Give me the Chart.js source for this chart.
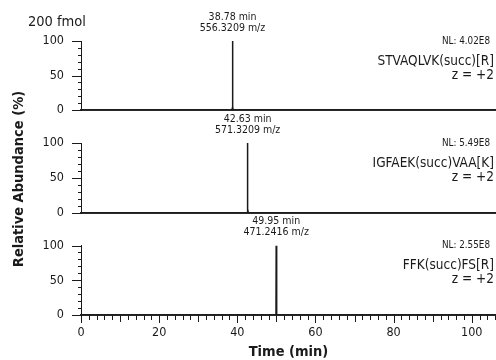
<!DOCTYPE html>
<html>
<head>
<meta charset="utf-8">
<script src="https://cdn.jsdelivr.net/npm/chart.js@4/dist/chart.umd.min.js"></script>
<style>
  html, body { margin: 0; padding: 0; background: #fff; }
  #wrap { position: relative; width: 496px; height: 360px; }
  #wrap canvas { position: absolute; left: 0; top: 0; }
</style>
</head>
<body>
<div id="wrap">
  <canvas id="painel1" width="496" height="360"></canvas>
  <canvas id="painel2" width="496" height="360"></canvas>
  <canvas id="painel3" width="496" height="360"></canvas>
</div>
<script>
// Dados (tempo em min, abundância relativa em %)

var tempos1 = [0, 38.64, 38.73, 38.78, 38.84, 38.95, 106.2];
var abund1 = [0, 0, 3, 100, 4, 0, 0];

var tempos2 = [0, 42.49, 42.58, 42.63, 42.69, 42.82, 106.2];
var abund2 = [0, 0, 4, 100, 6, 0, 0];

var tempos3 = [0, 49.81, 49.9, 49.95, 50.01, 50.14, 106.2];
var abund3 = [0, 0, 4, 100, 6, 0, 0];

var picos = [38.78, 42.63, 49.95];
var rotulosPico = [
  ['38.78 min', '556.3209 m/z'],
  ['42.63 min', '571.3209 m/z'],
  ['49.95 min', '471.2416 m/z']
];
var nivelNL = ['NL: 4.02E8', 'NL: 5.49E8', 'NL: 2.55E8'];
var peptideos = ['STVAQLVK(succ)[R]', 'IGFAEK(succ)VAA[K]', 'FFK(succ)FS[R]'];
var cargas = ['z = +2', 'z = +2', 'z = +2'];

var ticksX = [0, 20, 40, 60, 80, 100];
var ticksY = [0, 50, 100];
var xMin = 0;
var xMax = 106.2;

// Layout

var FONTE = "'Liberation Sans Narrow', 'Arial Narrow', 'DejaVu Sans Condensed', sans-serif";
var COR = '#1a1a1a';
var topos = [41, 143, 245.5];
var bases = [110, 213, 315];

function pontos(tempos, valores) {
  return tempos.map(function (t, i) { return { x: t, y: valores[i] }; });
}

function pluginPainel(i, ultimo) {
  return {
    id: 'textos' + i,
    afterDraw: function (chart) {
      var ctx = chart.ctx;
      var area = chart.chartArea;
      var sx = chart.scales.x;
      var sy = chart.scales.y;
      ctx.save();
      ctx.strokeStyle = COR;
      ctx.lineWidth = 1;

      // marcas do eixo y
      for (var v = 0; v <= 100; v += 10) {
        var py = Math.round(sy.getPixelForValue(v)) + 0.5;
        var len = v % 50 === 0 ? 9 : 3;
        ctx.beginPath();
        ctx.moveTo(area.left - len, py);
        ctx.lineTo(area.left, py);
        ctx.stroke();
      }

      // marcas do eixo x (só no último painel)
      if (ultimo) {
        for (var t = 0; t <= 106; t += 2) {
          var px = Math.round(sx.getPixelForValue(t)) + 0.5;
          var l = t % 20 === 0 ? 8 : (t % 10 === 0 ? 7 : 5);
          ctx.beginPath();
          ctx.moveTo(px, area.bottom);
          ctx.lineTo(px, area.bottom + l);
          ctx.stroke();
        }
      }

      ctx.fillStyle = COR;
      ctx.textBaseline = 'middle';

      // rótulo do pico
      ctx.textAlign = 'center';
      ctx.font = '10.5px ' + FONTE;
      var xp = sx.getPixelForValue(picos[i]);
      ctx.fillText(rotulosPico[i][0], xp, area.top - 24);
      ctx.fillText(rotulosPico[i][1], xp, area.top - 13);

      // NL e peptídeo
      ctx.textAlign = 'right';
      ctx.font = '9.8px ' + FONTE;
      ctx.fillText(nivelNL[i], 490, area.top);
      ctx.font = '13.5px ' + FONTE;
      ctx.fillText(peptideos[i], 494, area.top + 20);
      ctx.fillText(cargas[i], 494, area.top + 34);

      if (i === 0) {
        ctx.textAlign = 'left';
        ctx.font = '14.5px ' + FONTE;
        ctx.fillText('200 fmol', 28, 22);
      }

      if (i === 1) {
        ctx.save();
        ctx.translate(19, 179);
        ctx.rotate(-Math.PI / 2);
        ctx.textAlign = 'center';
        ctx.font = 'bold 14.5px ' + FONTE;
        ctx.fillText('Relative Abundance (%)', 0, 0);
        ctx.restore();
      }

      if (ultimo) {
        ctx.textAlign = 'center';
        ctx.font = 'bold 14.5px ' + FONTE;
        ctx.fillText('Time (min)', (area.left + area.right) / 2, 352);
      }
      ctx.restore();
    }
  };
}

function criarPainel(idCanvas, i, tempos, valores) {
  var ultimo = i === 2;
  var alturaX = ultimo ? 360 - bases[i] : 0;
  var config = {
    type: 'line',
    data: {
      datasets: [{
        data: pontos(tempos, valores),
        borderColor: COR,
        borderWidth: 1.5,
        pointRadius: 0,
        tension: 0,
        fill: false
      }]
    },
    options: {
      responsive: false,
      animation: false,
      events: [],
      layout: {
        padding: { top: topos[i], bottom: 360 - bases[i] - alturaX, left: 0, right: 0 }
      },
      plugins: {
        legend: { display: false },
        tooltip: { enabled: false }
      },
      scales: {
        x: {
          type: 'linear',
          min: xMin,
          max: xMax,
          afterFit: function (s) { s.height = alturaX; },
          afterBuildTicks: function (s) { s.ticks = ticksX.map(function (v) { return { value: v }; }); },
          grid: { display: false, drawTicks: false },
          border: { display: true, color: '#2a2a2a', width: 2 },
          ticks: {
            display: ultimo,
            autoSkip: false,
            maxRotation: 0,
            padding: 10,
            color: COR,
            font: { size: 12.5, family: FONTE }
          }
        },
        y: {
          min: 0,
          max: 100,
          afterFit: function (s) { s.width = 81; },
          afterBuildTicks: function (s) { s.ticks = ticksY.map(function (v) { return { value: v }; }); },
          grid: { display: false, drawTicks: false },
          border: { display: true, color: COR, width: 1 },
          ticks: {
            padding: 17,
            color: COR,
            font: { size: 12.5, family: FONTE }
          }
        }
      }
    },
    plugins: [pluginPainel(i, ultimo)]
  };
  var ctx = document.getElementById(idCanvas).getContext('2d');
  return new Chart(ctx, config);
}

var grafico1 = criarPainel('painel1', 0, tempos1, abund1);
var grafico2 = criarPainel('painel2', 1, tempos2, abund2);
var grafico3 = criarPainel('painel3', 2, tempos3, abund3);
</script>
</body>
</html>
